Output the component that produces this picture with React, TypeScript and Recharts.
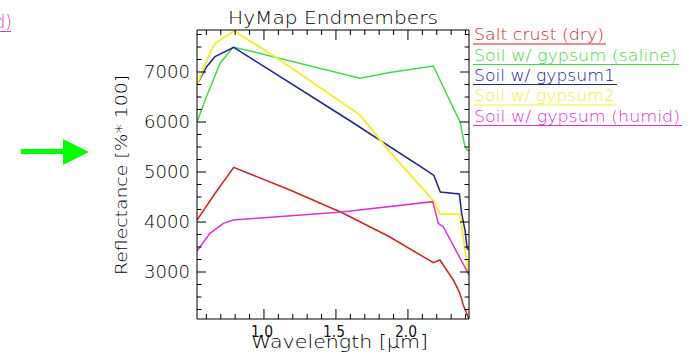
import React from "react";
import { LineChart, Line, XAxis, YAxis } from "recharts";

// wavelength [um] / reflectance [% * 100]
const saltWl = [0.535, 0.66, 0.79, 1.18, 1.54, 1.875, 2.176, 2.222, 2.315, 2.361, 2.384, 2.408, 2.424];
const saltRefl = [4040, 4570, 5093, 4640, 4190, 3700, 3187, 3240, 2840, 2573, 2340, 2173, 2060];

const salineWl = [0.535, 0.6, 0.695, 0.787, 1.065, 1.667, 1.875, 2.176, 2.361, 2.396, 2.41, 2.424];
const salineRefl = [6000, 6500, 7170, 7500, 7305, 6874, 6990, 7120, 6006, 5506, 5440, 5420];

const gyp1Wl = [0.535, 0.602, 0.66, 0.79, 1.6, 2.16, 2.18, 2.225, 2.357, 2.373, 2.396, 2.412, 2.424];
const gyp1Refl = [6750, 7106, 7307, 7493, 6020, 4973, 4930, 4600, 4560, 4173, 3840, 3470, 3440];

const gyp2Wl = [0.535, 0.625, 0.66, 0.792, 1.065, 1.667, 1.875, 2.188, 2.222, 2.361, 2.424];
const gyp2Refl = [6750, 7380, 7573, 7820, 7330, 6140, 5400, 4390, 4153, 4153, 2900];

const humidWl = [0.535, 0.625, 0.718, 0.787, 1.54, 2.172, 2.211, 2.245, 2.412, 2.424];
const humidRefl = [3420, 3773, 3973, 4040, 4200, 4407, 3973, 3907, 3007, 2950];

const seriesNames = [
  "Salt crust (dry)",
  "Soil w/ gypsum (saline)",
  "Soil w/ gypsum1",
  "Soil w/ gypsum2",
  "Soil w/ gypsum (humid)",
];
const seriesWl = [saltWl, salineWl, gyp1Wl, gyp2Wl, humidWl];
const seriesRefl = [saltRefl, salineRefl, gyp1Refl, gyp2Refl, humidRefl];
const seriesColors = ["#cc2222", "#44d844", "#222299", "#f2ee38", "#d633d6"];

const xTicks = [0.6, 0.7, 0.8, 0.9, 1.0, 1.1, 1.2, 1.3, 1.4, 1.5, 1.6, 1.7, 1.8, 1.9, 2.0, 2.1, 2.2, 2.3, 2.4];
const xMajor = [1.0, 1.5, 2.0];
const xLabels = ["1.0", "1.5", "2.0"];
const yTicks = [
  2250, 2500, 2750, 3000, 3250, 3500, 3750, 4000, 4250, 4500, 4750, 5000, 5250, 5500,
  5750, 6000, 6250, 6500, 6750, 7000, 7250, 7500, 7750,
];
const yMajor = [3000, 4000, 5000, 6000, 7000];

const X_DOMAIN = [0.535, 2.424];
const Y_DOMAIN = [2060, 7840];
const FONT = "'DejaVu Sans', sans-serif";

const toPoints = (wl: number[], refl: number[]) => wl.map((w, i) => ({ x: w, y: refl[i] }));

// ticks point inwards, like the IDL box
const BottomTick = ({ x, y, payload }: any) => {
  const i = xMajor.indexOf(payload.value);
  const major = i >= 0;
  return (
    <g>
      <line x1={x} x2={x} y1={y} y2={y - (major ? 10 : 5)} stroke="#000" />
      {major && (
        <text x={x - 2} y={y + 18} textAnchor="middle" fontSize={16} fontFamily={FONT}
          textLength={22} lengthAdjust="spacingAndGlyphs" fill="#111">
          {xLabels[i]}
        </text>
      )}
    </g>
  );
};

const TopTick = ({ x, y, payload }: any) => {
  const major = xMajor.includes(payload.value);
  return <line x1={x} x2={x} y1={y} y2={y + (major ? 10 : 5)} stroke="#000" />;
};

const LeftTick = ({ x, y, payload }: any) => {
  const major = yMajor.includes(payload.value);
  return (
    <g>
      <line x1={x} x2={x + (major ? 9 : 4.5)} y1={y} y2={y} stroke="#000" />
      {major && (
        <text x={x - 7} y={y + 6} textAnchor="end" fontSize={17} fontFamily={FONT} fontWeight={200}
          textLength={46} lengthAdjust="spacingAndGlyphs" fill="#000">
          {payload.value}
        </text>
      )}
    </g>
  );
};

const RightTick = ({ x, y, payload }: any) => {
  const major = yMajor.includes(payload.value);
  return <line x1={x} x2={x - (major ? 9 : 4.5)} y1={y} y2={y} stroke="#000" />;
};

const legendBase = [40, 60.5, 80.5, 101, 121.5];
const legendWidth = [130, 203, 141, 141, 206];

export default function App() {
  return (
    <div style={{ position: "absolute", left: 0, top: 0, width: 696, height: 363, background: "#fff" }}>
      <LineChart width={696} height={363} margin={{ top: 20, right: 217, bottom: 14, left: 137 }}>
        <XAxis xAxisId="b" type="number" dataKey="x" domain={X_DOMAIN} allowDataOverflow ticks={xTicks}
          interval={0} height={30} tickSize={0} tickMargin={0} tick={BottomTick} stroke="#000" />
        <XAxis xAxisId="t" orientation="top" type="number" dataKey="x" domain={X_DOMAIN} allowDataOverflow
          ticks={xTicks} interval={0} height={10} tickSize={0} tickMargin={0} tick={TopTick} stroke="#000" />
        <YAxis yAxisId="l" type="number" domain={Y_DOMAIN} allowDataOverflow ticks={yTicks} interval={0}
          width={60} tickSize={0} tickMargin={0} tick={LeftTick} stroke="#000" />
        <YAxis yAxisId="r" orientation="right" type="number" domain={Y_DOMAIN} allowDataOverflow ticks={yTicks}
          interval={0} width={10} tickSize={0} tickMargin={0} tick={RightTick} stroke="#000" />
        {seriesNames.map((name, i) => (
          <Line
            key={name}
            name={name}
            data={toPoints(seriesWl[i], seriesRefl[i])}
            dataKey="y"
            xAxisId="b"
            yAxisId="l"
            type="linear"
            stroke={seriesColors[i]}
            strokeWidth={i === 3 ? 2 : 1.5}
            dot={false}
            isAnimationActive={false}
          />
        ))}
      </LineChart>

      <svg width={696} height={363} style={{ position: "absolute", left: 0, top: 0, pointerEvents: "none" }}
        fontFamily={FONT} fontWeight={200}>
        {/* tail of a neighbouring legend, cut off at the page edge */}
        <text x={12} y={28} textAnchor="end" fontSize={17} fill="#d633d6">(humid)</text>
        <line x1={0} x2={11} y1={31.5} y2={31.5} stroke="#d633d6" />

        {/* arrow */}
        <rect x={21} y={149} width={43} height={5} fill="#00ff00" />
        <polygon points="63,139 89,152 63,165" fill="#00ff00" />

        <text x={333} y={24} textAnchor="middle" fontSize={18} textLength={210} lengthAdjust="spacingAndGlyphs"
          fill="#000">HyMap Endmembers</text>

        <text transform="translate(127,175) rotate(-90)" textAnchor="middle" fontSize={16} textLength={200}
          lengthAdjust="spacingAndGlyphs" fill="#000">Reflectance [%* 100]</text>

        <text x={339.5} y={348} textAnchor="middle" fontSize={17} textLength={177}
          lengthAdjust="spacingAndGlyphs" fill="#000">Wavelength [μm]</text>

        {seriesNames.map((name, i) => (
          <g key={name}>
            <text x={474} y={legendBase[i]} fontSize={15} textLength={legendWidth[i]}
              lengthAdjust="spacingAndGlyphs" fill={seriesColors[i]}>{name}</text>
            <line x1={473} x2={476 + legendWidth[i]} y1={legendBase[i] + 4} y2={legendBase[i] + 4}
              stroke={seriesColors[i]} />
          </g>
        ))}
      </svg>
    </div>
  );
}
